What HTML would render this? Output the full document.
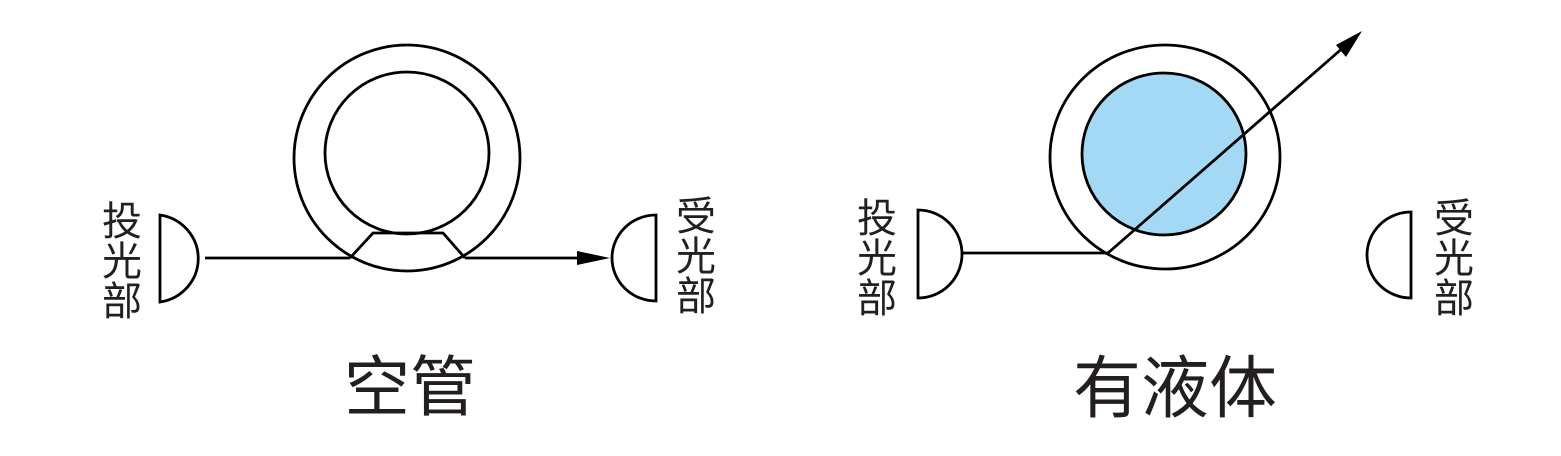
<!DOCTYPE html>
<html><head><meta charset="utf-8"><style>
html,body{margin:0;padding:0;background:#fff;}
body{width:1561px;height:456px;overflow:hidden;position:relative;}
svg{position:absolute;left:0;top:0;}
text{font-family:"Liberation Sans","Noto Sans CJK SC",sans-serif;fill:#231f20;}
</style></head><body>
<svg width="1561" height="456" viewBox="0 0 1561 456" xmlns="http://www.w3.org/2000/svg">
<g fill="none" stroke="#000" stroke-width="2.8">
<!-- left tube -->
<ellipse cx="407" cy="158" rx="113" ry="113"/>
<ellipse cx="407" cy="153" rx="82" ry="81"/>
<polyline points="350,258 373,233 443,233 465,258"/>
<path d="M160,215 A45,44 0 0 1 160,302 Z"/>
<line x1="205" y1="258" x2="350" y2="258"/>
<line x1="465" y1="258" x2="585" y2="258"/>
<path d="M656,215 A44,43 0 0 0 656,301 Z"/>
<!-- right tube -->
<ellipse cx="1165" cy="157" rx="115" ry="112"/>
<ellipse cx="1164" cy="154" rx="82" ry="81" fill="#a3d9f5"/>
<path d="M918,210 A44,44 0 0 1 918,298 Z"/>
<line x1="962" y1="253" x2="1108" y2="253"/>
<line x1="1108" y1="253" x2="1345" y2="46"/>
<path d="M1411,212 A44,43 0 0 0 1411,298 Z"/>
</g>
<polygon points="610,258 577,251 577,265" fill="#000"/>
<polygon points="1362,31 1336,45 1346,57" fill="#000"/>
<g font-size="40">
<text x="102" y="235">投</text><text x="102" y="275">光</text><text x="102" y="315">部</text>
<text x="676" y="230">受</text><text x="676" y="270">光</text><text x="676" y="310">部</text>
<text x="857" y="232">投</text><text x="857" y="272">光</text><text x="857" y="312">部</text>
<text x="1434" y="232">受</text><text x="1434" y="272">光</text><text x="1434" y="312">部</text>
</g>
<text x="344" y="410" font-size="66">空管</text>
<text x="1073" y="412" font-size="68">有液体</text>
</svg>
</body></html>
